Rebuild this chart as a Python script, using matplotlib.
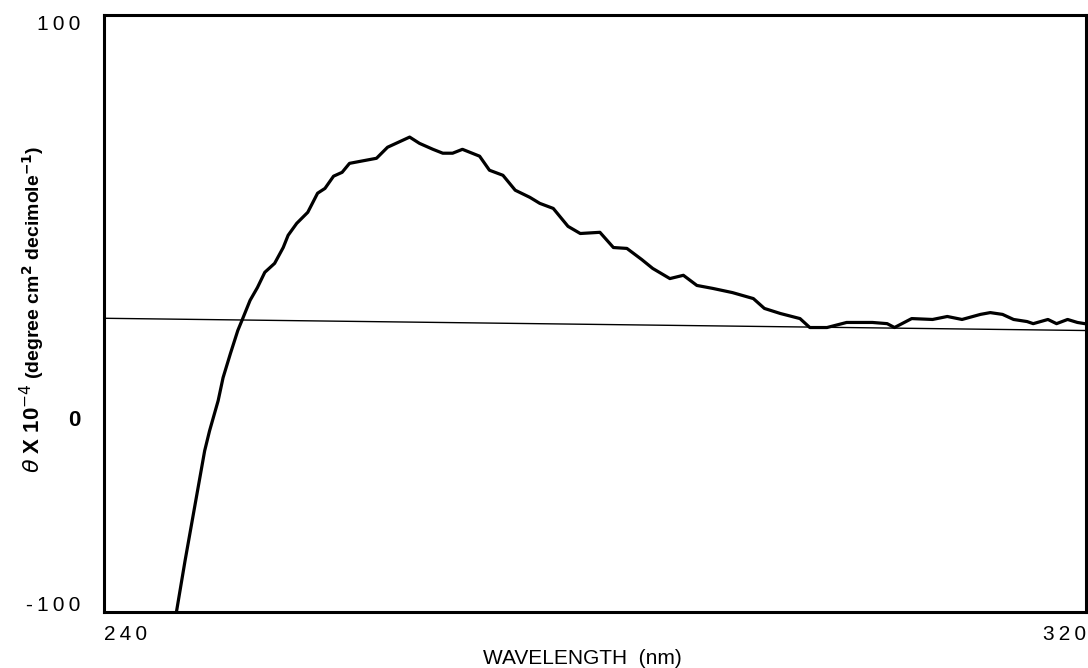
import matplotlib
matplotlib.use("Agg")
import matplotlib.pyplot as plt

# Circular dichroism spectrum
wavelength = [245.9, 246.6, 248.2, 248.6, 249.3, 249.7, 250.3, 250.9, 251.3, 251.9,
              252.5, 253.1, 253.9, 254.6, 255.0, 255.7, 256.6, 257.4, 258.0, 258.7,
              259.4, 260.0, 260.9, 262.2, 263.1, 264.0, 264.9, 265.7, 266.8, 267.6,
              268.4, 269.2, 270.6, 271.4, 272.5, 273.5, 274.7, 275.5, 276.6, 277.8,
              278.8, 280.4, 281.5, 282.6, 283.8, 284.7, 286.1, 287.2, 288.3, 289.6,
              291.2, 292.9, 293.8, 295.1, 296.7, 297.5, 298.9, 300.5, 302.6, 303.8,
              304.4, 305.8, 307.5, 308.7, 309.9, 311.4, 312.2, 313.2, 314.1, 315.2,
              315.7, 316.9, 317.6, 318.5, 319.3, 319.9]
theta = [-100.0, -82.9, -46.0, -39.3, -29.2, -21.5, -13.4, -5.7, -1.7, 4.4,
         8.7, 13.8, 16.8, 22.1, 26.2, 30.2, 33.9, 40.3, 41.9, 46.0,
         47.3, 50.3, 51.0, 52.0, 55.7, 57.4, 59.1, 57.0, 55.0, 53.7,
         53.7, 55.0, 52.7, 48.0, 46.3, 41.3, 38.9, 36.9, 35.2, 29.2,
         26.8, 27.2, 22.1, 21.8, 18.1, 15.1, 11.7, 12.8, 9.4, 8.4,
         7.0, 5.0, 1.7, 0.0, -1.7, -4.7, -4.7, -3.0, -3.0, -3.4,
         -4.7, -1.7, -2.0, -1.0, -2.0, -0.3, 0.3, -0.3, -2.0, -2.7,
         -3.4, -2.0, -3.4, -2.0, -3.0, -3.4]

baseline_x = [240, 320]
baseline_y = [-1.6, -5.7]

x_ticks = [240, 320]
x_ticklabels = ["2\u20094\u20090", "3\u20092\u20090"]
# label positions as printed in the original figure
y_ticks = [97.5, -35, -97.3]
y_ticklabels = ["1\u20090\u20090", "0", "-\u20091\u20090\u20090"]

plt.rcParams['font.family'] = ['Liberation Sans', 'DejaVu Sans']

fig = plt.figure(figsize=(10.88, 6.68), dpi=100)
W, H = 1088, 668
ax = fig.add_axes([104 / W, 1 - 612 / H, (1086 - 104) / W, (612 - 15) / H])

ax.plot(baseline_x, baseline_y, color='black', lw=1.0)
ax.plot(wavelength, theta, color='black', lw=2.3, solid_joinstyle='round')

ax.set_xlim(240, 320)
ax.set_ylim(-100, 100)
for s in ax.spines.values():
    s.set_linewidth(2.2)

ax.set_xticks(x_ticks)
ax.set_xticklabels(x_ticklabels, fontsize=15)
xl = ax.get_xticklabels()
xl[0].set_ha('left')
xl[1].set_ha('right')
ax.tick_params(axis='x', length=0, pad=9)

ax.set_yticks(y_ticks)
ax.set_yticklabels(y_ticklabels, fontsize=15)
yl = ax.get_yticklabels()
yl[1].set_fontweight('bold')
yl[1].set_fontsize(16)
ax.tick_params(axis='y', length=0, pad=17)

fig.text(582 / W, 1 - 658 / H, "WAVELENGTH  (nm)", fontsize=15,
         ha='center', va='center')
fig.text(33 / W, 1 - 428 / H, r"$\theta$ X 10$^{-4}$", fontsize=16,
         fontweight='bold', rotation=90, ha='center', va='center')
fig.text(33 / W, 1 - 262 / H, r"(degree cm$^{\mathbf{2}}$ decimole$^{\mathbf{-1}}$)",
         fontsize=14, fontweight='bold', rotation=90, ha='center', va='center')

fig.savefig("out.png", dpi=100)
